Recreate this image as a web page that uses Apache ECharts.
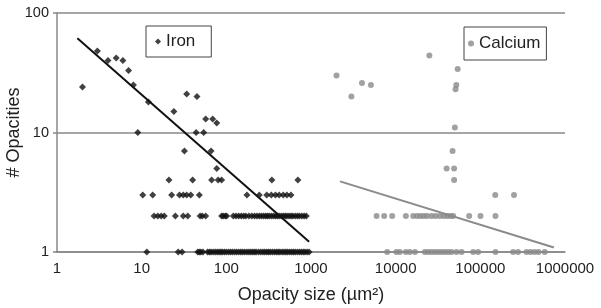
<!DOCTYPE html>
<html>
<head>
<meta charset="utf-8">
<script src="https://cdn.jsdelivr.net/npm/echarts@6/dist/echarts.min.js"></script>
<style>
  html, body { margin: 0; padding: 0; background: #fff; }
  #chart { width: 601px; height: 308px; }
</style>
</head>
<body>
<div id="chart"></div>
<script>
// Iron: opacity sizes sitting on each low count row
var ironAt1 = [11.5, 27, 30, 46, 48, 50, 53, 60, 63, 66, 70, 74, 78, 82, 86, 90, 95, 100, 106, 112, 118, 125, 132, 140, 148, 156, 165, 175, 185, 195, 205, 215, 225, 240, 255, 270, 285, 300, 315, 330, 350, 370, 390, 410, 430, 455, 480, 505, 530, 560, 590, 620, 650, 690, 730, 770, 810, 850, 900, 950]
var ironAt2 = [14, 15.5, 17, 18.5, 25, 31, 35, 49, 52, 57, 88, 92, 97, 101, 121, 130, 140, 150, 160, 170, 185, 200, 215, 230, 245, 260, 275, 290, 305, 320, 340, 360, 380, 400, 420, 445, 470, 495, 520, 550, 580, 610, 650, 690, 730, 780, 830, 880]
var ironAt3 = [10.3, 13.5, 22.6, 28, 31, 34, 38, 48, 175, 245, 300, 340, 380, 420, 470, 520, 580]
var ironAt4 = [21, 40, 67, 80, 88, 345, 700]
// Iron: the scattered points above
var ironSize = [2, 3, 4, 5, 6, 7, 8, 12, 24, 34, 45, 57, 69, 77, 9, 44, 54, 32, 66, 77]
var ironCount = [24, 48, 40, 42, 40, 33, 25, 18, 15, 21, 20, 13, 13, 12, 10, 10, 10, 7, 7, 5]

// Calcium
var caAt1 = [7940, 10200, 11200, 13200, 14700, 16900, 22100, 24200, 26500, 29000, 31800, 34800, 38100, 41700, 45700, 52300, 60000, 82300, 94200, 151000, 244000, 279000, 351000, 391000, 436000, 486000, 577000]
var caAt2 = [5950, 7310, 9100, 13200, 16100, 17900, 19600, 21500, 23500, 26500, 29600, 33200, 37000, 40600, 44400, 47800, 73800, 100500, 151000]
var caSize = [2000, 3000, 4000, 5100, 25000, 54000, 52000, 51000, 50000, 47000, 40000, 49000, 49000, 150000, 250000]
var caCount = [30, 20, 26, 25, 44, 34, 25, 23, 11, 7, 5, 5, 4, 3, 3]

// trend lines, end points
var ironTrendX = [1.74, 950]
var ironTrendY = [61.4, 1.22]
var caTrendX = [2200, 740000]
var caTrendY = [3.9, 1.09]

function rows(list) {
  var out = []
  for (var i = 0; i < list.length; i++) {
    var xs = list[i][0]
    for (var j = 0; j < xs.length; j++) {
      out.push([xs[j], list[i][1]])
    }
  }
  return out
}
function pairs(xs, ys) {
  var out = []
  for (var i = 0; i < xs.length; i++) out.push([xs[i], ys[i]])
  return out
}

var ironData = rows([[ironAt1, 1], [ironAt2, 2], [ironAt3, 3], [ironAt4, 4]]).concat(pairs(ironSize, ironCount))
var caData = rows([[caAt1, 1], [caAt2, 2]]).concat(pairs(caSize, caCount))

var font = 'Liberation Sans, Arial, sans-serif'
var chart = echarts.init(document.getElementById('chart'), null, { renderer: 'canvas' })

chart.setOption({
  animation: false,
  textStyle: { fontFamily: font },
  grid: { left: 57, right: 36, top: 13, bottom: 56, containLabel: false, outerBoundsMode: 'none' },
  legend: [
    {
      data: ['Iron'],
      left: 146, top: 26,
      borderColor: '#444', borderWidth: 1,
      padding: [7, 16, 7, 9],
      itemWidth: 6, itemHeight: 6,
      textStyle: { fontFamily: font, fontSize: 17, color: '#222' }
    },
    {
      data: ['Calcium'],
      left: 464, top: 27,
      borderColor: '#444', borderWidth: 1,
      padding: [8, 6, 8, 4],
      itemWidth: 6, itemHeight: 6,
      textStyle: { fontFamily: font, fontSize: 17, color: '#222' }
    }
  ],
  xAxis: {
    type: 'log',
    logBase: 10,
    min: 1,
    max: 1000000,
    name: 'Opacity size (µm²)',
    nameLocation: 'middle',
    nameGap: 34,
    nameTextStyle: { fontFamily: font, fontSize: 18, color: '#222' },
    axisLine: { show: true, lineStyle: { color: '#888', width: 1.5 } },
    axisTick: { show: false },
    axisLabel: {
      fontFamily: font, fontSize: 15, color: '#222', margin: 9,
      formatter: function (v) { return String(Math.round(v)) }
    },
    splitLine: { show: false }
  },
  yAxis: {
    type: 'log',
    logBase: 10,
    min: 1,
    max: 100,
    name: '# Opacities',
    nameLocation: 'middle',
    nameGap: 34,
    nameRotate: 90,
    nameMoveOverlap: false,
    nameTextStyle: { fontFamily: font, fontSize: 18, color: '#222' },
    axisLine: { show: true, lineStyle: { color: '#888', width: 1.5 } },
    axisTick: { show: true, length: 4, lineStyle: { color: '#888', width: 1.5 } },
    axisLabel: {
      fontFamily: font, fontSize: 14.5, color: '#222', margin: 8,
      formatter: function (v) { return String(Math.round(v)) }
    },
    splitLine: { show: true, lineStyle: { color: '#888', width: 1.5 } }
  },
  series: [
    {
      name: 'Iron',
      type: 'scatter',
      symbol: 'diamond',
      symbolSize: 7,
      itemStyle: { color: '#111' },
      data: ironData,
      z: 3
    },
    {
      name: 'Calcium',
      type: 'scatter',
      symbol: 'circle',
      symbolSize: 6,
      itemStyle: { color: '#8a8a8a' },
      data: caData,
      z: 3
    },
    {
      name: 'Iron trend',
      type: 'line',
      symbol: 'none',
      lineStyle: { color: '#111', width: 2 },
      data: pairs(ironTrendX, ironTrendY),
      z: 4
    },
    {
      name: 'Calcium trend',
      type: 'line',
      symbol: 'none',
      lineStyle: { color: '#8a8a8a', width: 2 },
      data: pairs(caTrendX, caTrendY),
      z: 4
    }
  ]
})
</script>
</body>
</html>
